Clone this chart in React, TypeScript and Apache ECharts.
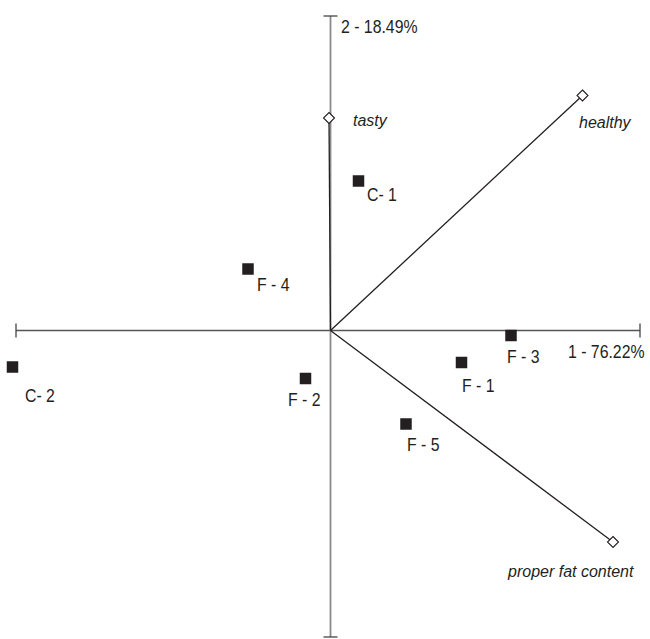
import React, { useEffect, useRef } from "react";
import * as echarts from "echarts";

// Observations (factor scores on axis 1 and axis 2)
const pointNames = ["C- 1", "F - 4", "C- 2", "F - 2", "F - 5", "F - 1", "F - 3"];
const pointX = [0.28, -0.825, -3.18, -0.25, 0.755, 1.31, 1.805];
const pointY = [1.495, 0.615, -0.365, -0.48, -0.935, -0.32, -0.05];

// Variables (loadings)
const varNames = ["tasty", "healthy", "proper fat content"];
const varX = [-0.015, 2.52, 2.825];
const varY = [2.125, 2.35, -2.115];

// Axis titles and extents
const axisTitles = ["1 - 76.22%", "2 - 18.49%"];
const axis1Extent = [-3.145, 3.095];
const axis2Extent = [-3.065, 3.145];

// label placement (pixels, relative to marker centre)
const pointLabelOffsets = [
  [8.5, 14],
  [9, 16.5],
  [12.5, 29],
  [-17.5, 22],
  [1, 21.5],
  [0.5, 23.5],
  [-4, 22],
];
const varLabelOffsets = [
  [24, 2],
  [-3.5, 26.5],
  [-105, 29],
];

const SANS = '"Liberation Sans", Arial, Helvetica, sans-serif';
const INK = "#231f20";
const NARROW_SCALE = 0.88;

export default function App() {
  const ref = useRef<HTMLDivElement>(null);

  useEffect(() => {
    if (!ref.current) return;
    const chart = echarts.init(ref.current, undefined, { renderer: "svg" });
    const tick = 0.07;

    const series: any[] = [];
    series.push({
      type: "line",
      data: [
        [axis1Extent[0], 0],
        [axis1Extent[1], 0],
      ],
      symbol: "none",
      lineStyle: { color: "#555555", width: 1.3 },
      silent: true,
      z: 1,
    });
    series.push({
      type: "line",
      data: [
        [0, axis2Extent[0]],
        [0, axis2Extent[1]],
      ],
      symbol: "none",
      lineStyle: { color: "#8a8a8a", width: 1.8 },
      silent: true,
      z: 1,
    });
    axis1Extent.forEach((x) => {
      series.push({
        type: "line",
        data: [
          [x, -tick],
          [x, tick],
        ],
        symbol: "none",
        lineStyle: { color: "#444444", width: 1.3 },
        silent: true,
        z: 1,
      });
    });
    axis2Extent.forEach((y) => {
      series.push({
        type: "line",
        data: [
          [-tick, y],
          [tick, y],
        ],
        symbol: "none",
        lineStyle: { color: "#444444", width: 1.3 },
        silent: true,
        z: 1,
      });
    });
    varNames.forEach((name, i) => {
      series.push({
        type: "line",
        data: [
          { value: [0, 0], symbol: "none", label: { show: false } },
          {
            value: [varX[i], varY[i]],
            symbol: "diamond",
            symbolSize: 11,
            label: {
              show: true,
              formatter: name,
              position: "inside",
              align: "left",
              verticalAlign: "middle",
              offset: varLabelOffsets[i],
              fontFamily: SANS,
              fontStyle: "italic",
              fontSize: 16,
              color: INK,
            },
          },
        ],
        showAllSymbol: true,
        lineStyle: { color: INK, width: 1.3 },
        itemStyle: { color: "#ffffff", borderColor: INK, borderWidth: 1.1, opacity: 1 },
        z: 3,
      });
    });
    series.push({
      type: "scatter",
      symbol: "rect",
      symbolSize: 11.5,
      itemStyle: { color: INK, opacity: 1 },
      clip: false,
      data: pointNames.map((n, i) => ({ name: n, value: [pointX[i], pointY[i]] })),
      z: 4,
    });

    chart.setOption({
      animation: false,
      backgroundColor: "#ffffff",
      grid: { left: 0, right: 0, top: 0, bottom: 0 },
      xAxis: { type: "value", min: -3.305, max: 3.195, show: false },
      yAxis: { type: "value", min: -3.085, max: 3.305, show: false },
      series,
    });

    const narrowText = (text: string, x: number, y: number) => ({
      type: "text",
      x,
      y,
      scaleX: NARROW_SCALE,
      style: {
        text,
        font: `18px ${SANS}`,
        fill: INK,
        textAlign: "left",
        textVerticalAlign: "middle",
      },
      z: 10,
    });

    const graphics: any[] = [];
    pointNames.forEach((n, i) => {
      const p = chart.convertToPixel({ gridIndex: 0 }, [pointX[i], pointY[i]]) as number[];
      graphics.push(narrowText(n, p[0] + pointLabelOffsets[i][0], p[1] + pointLabelOffsets[i][1]));
    });
    graphics.push(narrowText(axisTitles[0], 568, 352));
    graphics.push(narrowText(axisTitles[1], 341, 27));

    chart.setOption({ graphic: graphics });
    return () => chart.dispose();
  }, []);

  return (
    <div
      ref={ref}
      style={{ position: "fixed", left: 0, top: 0, width: 650, height: 639, background: "#fff" }}
    />
  );
}
